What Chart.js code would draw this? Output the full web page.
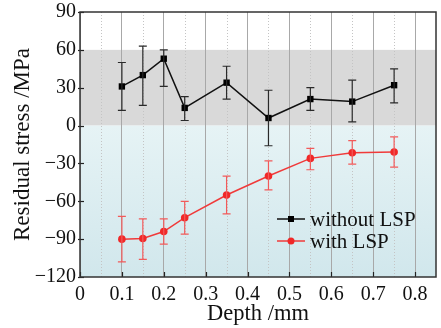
<!DOCTYPE html>
<html>
<head>
<meta charset="utf-8">
<script src="https://cdn.jsdelivr.net/npm/chart.js@4"></script>
<style>
  html, body { margin: 0; padding: 0; background: #fff; }
  #wrap { width: 441px; height: 328px; }
</style>
</head>
<body>
<div id="wrap"><canvas id="myChart" width="441" height="328"></canvas></div>
<script>
const depth = [0.1, 0.15, 0.2, 0.25, 0.35, 0.45, 0.55, 0.65, 0.75];

const stressWithout = [31, 40, 53, 14, 34, 6, 21, 19, 32];
const lowWithout    = [12, 16, 31, 4, 21, -16, 12, 3, 18];
const highWithout   = [50, 63, 60, 23, 47, 28, 30, 36, 45];

const stressWith = [-90, -89.5, -84, -73, -55, -40, -26, -21.5, -21];
const lowWith    = [-108, -106, -94, -86, -70, -51, -35, -30.5, -33];
const highWith   = [-72, -74, -74, -60, -40, -28, -18, -12, -9];

const yTicks = [-120, -90, -60, -30, 0, 30, 60, 90];
const xTicks = [0, 0.1, 0.2, 0.3, 0.4, 0.5, 0.6, 0.7, 0.8];
const xMinor = [0.05, 0.15, 0.25, 0.35, 0.45, 0.55, 0.65, 0.75];
const grayBand = [0, 60];

const serif = '"Liberation Serif"';

function pts(ys) {
    return depth.map((d, i) => ({ x: d, y: ys[i] }));
}
function fmt(v) {
    return v < 0 ? '\u2212' + Math.abs(v) : String(v);
}

// ........ background bands, minor grid ........
const fond = {
    id: 'fond',
    beforeDraw(chart) {
        const { ctx, chartArea: a, scales: { x, y } } = chart;
        ctx.save();
        const y60 = y.getPixelForValue(grayBand[1]);
        const y0 = y.getPixelForValue(grayBand[0]);
        ctx.fillStyle = '#d9d9d9';
        ctx.fillRect(a.left, y60, a.right - a.left, y0 - y60);
        const g = ctx.createLinearGradient(0, y0, 0, a.bottom);
        g.addColorStop(0, '#e6f3f5');
        g.addColorStop(1, '#d1e7ec');
        ctx.fillStyle = g;
        ctx.fillRect(a.left, y0, a.right - a.left, a.bottom - y0);
        // dotted minor lines
        ctx.strokeStyle = '#c4c4c4';
        ctx.lineWidth = 1;
        ctx.setLineDash([1, 2]);
        xMinor.forEach(v => {
            const px = Math.round(x.getPixelForValue(v)) + 0.5;
            ctx.beginPath();
            ctx.moveTo(px, a.top);
            ctx.lineTo(px, a.bottom);
            ctx.stroke();
        });
        ctx.restore();
    }
};

// ........ error bars, ticks, frame, legend ........
const barres = {
    id: 'barres',
    afterDatasetsDraw(chart) {
        const { ctx, scales: { x, y } } = chart;
        ctx.save();
        chart.data.datasets.forEach(ds => {
            ctx.strokeStyle = ds.errColor;
            ctx.lineWidth = 1.2;
            depth.forEach((d, i) => {
                const px = x.getPixelForValue(d);
                const lo = y.getPixelForValue(ds.low[i]);
                const hi = y.getPixelForValue(ds.high[i]);
                ctx.beginPath();
                ctx.moveTo(px, lo); ctx.lineTo(px, hi);
                ctx.moveTo(px - 4, lo); ctx.lineTo(px + 4, lo);
                ctx.moveTo(px - 4, hi); ctx.lineTo(px + 4, hi);
                ctx.stroke();
            });
        });
        ctx.restore();
    },
    afterDraw(chart) {
        const { ctx, chartArea: a, scales: { x, y } } = chart;
        ctx.save();
        // inner ticks
        ctx.strokeStyle = '#222';
        ctx.lineWidth = 1.2;
        xTicks.forEach(v => {
            const px = Math.round(x.getPixelForValue(v)) + 0.5;
            ctx.beginPath(); ctx.moveTo(px, a.bottom); ctx.lineTo(px, a.bottom - 5); ctx.stroke();
        });
        yTicks.forEach(v => {
            const py = Math.round(y.getPixelForValue(v)) + 0.5;
            ctx.beginPath(); ctx.moveTo(a.left - 2, py); ctx.lineTo(a.left + 4, py); ctx.stroke();
        });
        // frame
        ctx.strokeStyle = '#333';
        ctx.lineWidth = 1.5;
        ctx.strokeRect(a.left, a.top, a.right - a.left, a.bottom - a.top);

        // legend
        ctx.font = '21px ' + serif;
        ctx.textBaseline = 'middle';
        chart.data.datasets.forEach((ds, i) => {
            const ly = a.bottom - 58 + i * 22;
            const lx = a.right - 159;
            ctx.strokeStyle = ds.borderColor;
            ctx.lineWidth = 1.5;
            ctx.beginPath(); ctx.moveTo(lx, ly); ctx.lineTo(lx + 28, ly); ctx.stroke();
            ctx.fillStyle = ds.pointBackgroundColor;
            if (ds.pointStyle === 'rect') {
                ctx.fillRect(lx + 11, ly - 3, 6, 6);
            } else {
                ctx.beginPath(); ctx.arc(lx + 14, ly, 3.5, 0, Math.PI * 2); ctx.fill();
            }
            ctx.fillStyle = '#111';
            ctx.fillText(ds.label, lx + 33, ly + 1);
        });
        ctx.restore();
    }
};

const ctx = document.getElementById('myChart').getContext('2d');
const chart = new Chart(ctx, {
    type: 'line',
    data: {
        datasets: [{
            label: 'without LSP',
            data: pts(stressWithout),
            low: lowWithout,
            high: highWithout,
            errColor: '#2a2a2a',
            borderColor: '#111',
            borderWidth: 1.5,
            pointStyle: 'rect',
            pointRadius: 4.5,
            pointBackgroundColor: '#000',
            pointBorderColor: '#000',
            pointBorderWidth: 0
        }, {
            label: 'with LSP',
            data: pts(stressWith),
            low: lowWith,
            high: highWith,
            errColor: '#f25a5a',
            borderColor: '#f03a3a',
            borderWidth: 1.5,
            pointStyle: 'circle',
            pointRadius: 3.8,
            pointBackgroundColor: '#f02828',
            pointBorderColor: '#f02828',
            pointBorderWidth: 0
        }]
    },
    options: {
        responsive: false,
        animation: false,
        layout: { padding: { left: 0, right: 5, top: 12, bottom: 0 } },
        plugins: {
            legend: { display: false },
            tooltip: { enabled: false }
        },
        scales: {
            x: {
                type: 'linear',
                min: 0,
                max: 0.85,
                afterBuildTicks(s) { s.ticks = xTicks.map(v => ({ value: v })); },
                afterFit(s) { s.height = 51; s.paddingLeft = 0; s.paddingRight = 0; },
                ticks: {
                    color: '#111',
                    font: { family: serif, size: 20 },
                    padding: 6,
                    maxRotation: 0,
                    callback: v => fmt(Math.round(v * 10) / 10)
                },
                grid: { color: '#a8a8a8', lineWidth: 1, drawTicks: false },
                border: { display: false },
                title: {
                    display: true,
                    text: 'Depth /mm',
                    color: '#111',
                    font: { family: serif, size: 22.5 },
                    padding: { top: 0, bottom: 0 }
                }
            },
            y: {
                min: -120,
                max: 90,
                afterBuildTicks(s) { s.ticks = yTicks.map(v => ({ value: v })); },
                afterFit(s) { s.width = 80; s.paddingTop = 0; s.paddingBottom = 0; },
                ticks: {
                    color: '#111',
                    font: { family: serif, size: 20 },
                    padding: 4,
                    callback: v => fmt(v)
                },
                grid: { display: false, drawTicks: false },
                border: { display: false },
                title: {
                    display: true,
                    text: 'Residual stress /MPa',
                    color: '#111',
                    font: { family: serif, size: 23 },
                    padding: { top: 9, bottom: 0 }
                }
            }
        }
    },
    plugins: [fond, barres]
});
</script>
</body>
</html>
